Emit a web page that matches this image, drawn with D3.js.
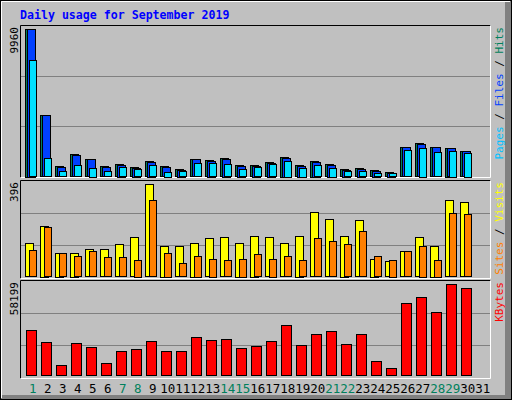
<!DOCTYPE html>
<html><head><meta charset="utf-8">
<script src="https://cdn.jsdelivr.net/npm/d3@7"></script>
<style>body{margin:0;background:#fff}svg{display:block}</style>
</head><body>
<script>
const days = d3.range(1, 32);
const weekend = [1,7,8,14,15,21,22,28,29];
const hits  = [9960,4133,709,1500,1161,709,824,641,1026,709,486,1161,1094,1229,756,756,979,1317,756,1047,824,486,554,419,284,1992,2242,1992,1925,1702];
const files = [9960,4133,640,1420,1161,640,800,600,1000,640,460,1161,1060,1200,720,720,940,1270,720,1000,790,470,520,400,260,1990,2180,1990,1900,1690];
const pages = [7846,1249,371,776,574,371,641,506,776,304,371,911,911,844,506,641,844,1047,574,776,574,371,371,236,236,1789,1925,1654,1722,1587];
const visits = [142,219,103,103,116,116,138,168,396,133,129,146,164,168,146,176,168,142,176,275,245,176,241,77,65,108,168,133,327,318];
const sites  = [112,211,99,86,108,82,82,73,327,103,56,90,77,69,77,95,77,86,69,164,151,138,194,86,73,108,133,73,271,267];
const kbytes = [28780,21105,6396,20466,17908,7675,15350,16629,21745,15350,15350,24303,22384,23024,17268,18547,21745,31978,19187,26222,28141,19826,26222,8954,4477,46048,49885,40292,58199,55641];
const maxLabels = ["9960","396","58199"];

const W=512,H=400;
const svg=d3.select("body").append("svg").attr("width",W).attr("height",H);
// frame
svg.append("rect").attr("x",0).attr("y",0).attr("width",W).attr("height",H).attr("fill","#c0c0c0");
svg.append("rect").attr("x",505).attr("y",0).attr("width",7).attr("height",H).attr("fill","#808080");
svg.append("rect").attr("x",0).attr("y",395).attr("width",W).attr("height",5).attr("fill","#808080");
svg.append("rect").attr("x",0.5).attr("y",0.5).attr("width",W-1).attr("height",H-1).attr("fill","none").attr("stroke","#000");
svg.append("path").attr("d","M1.5,398V1.5H510").attr("stroke","#fff").attr("fill","none");

svg.append("text").attr("x",20).attr("y",19).text("Daily usage for September 2019")
  .attr("font-family","DejaVu Sans Mono").attr("font-weight","bold").attr("font-size","11.6px").attr("fill","#0000ff");

const x = d3.scaleLinear().domain([1,30]).range([25.3, 25.3+29*15]);
const panels=[{top:25,bot:177,base:176.5,ymax:29},{top:180,bot:278,base:276.5,ymax:184.3},{top:280,bot:378,base:375.5,ymax:284.3}];
panels.forEach(p=>{
  svg.append("rect").attr("x",20.5).attr("y",p.top+0.5).attr("width",470).attr("height",p.bot-p.top).attr("fill","#c0c0c0");
  [1,2].forEach(k=>{const gy=Math.round(p.top+(p.bot-p.top)*k/3)+0.5;
    svg.append("line").attr("x1",21).attr("x2",490).attr("y1",gy).attr("y2",gy).attr("stroke","#808080");});
  svg.append("path").attr("d",`M20.5,${p.bot+0.5}V${p.top+0.5}H490.5`).attr("stroke","#000").attr("fill","none");
  svg.append("path").attr("d",`M490.5,${p.top+0.5}V${p.bot+0.5}H20.5`).attr("stroke","#fff").attr("fill","none");
});
function bars(data,p,max,dx,w,color){
  const y=d3.scaleLinear().domain([0,max]).range([p.base,p.ymax]);
  svg.append("g").selectAll("rect").data(data).join("rect")
   .attr("x",(d,i)=>Math.round(x(i+1)+dx)+0.5).attr("y",d=>Math.round(y(d))+0.5)
   .attr("width",w).attr("height",d=>Math.max(0,Math.round(p.base-y(d))))
   .attr("fill",color).attr("stroke","#000");
}
bars(hits,panels[0],9960,0,8,"#00805c");
bars(files,panels[0],9960,2,8,"#0040ff");
bars(pages,panels[0],9960,4,7,"#00e0ff");
bars(visits,panels[1],396,0,8,"#ffff00");
bars(sites,panels[1],396,4,7,"#ff8000");
bars(kbytes,panels[2],58199,1,10,"#ff0000");

// left max labels
panels.forEach((p,i)=>{
  svg.append("text").attr("transform",`translate(18,${p.top+2}) rotate(-90)`).attr("text-anchor","end")
   .attr("font-family","DejaVu Sans Mono").attr("font-size","11px").attr("fill","#000").text(maxLabels[i]);
});
// right legends
function legend(parts,p){
  const t=svg.append("text").attr("transform",`translate(503,${p.top+2}) rotate(-90)`).attr("text-anchor","end")
   .attr("font-family","DejaVu Sans Mono").attr("font-size","11px");
  parts.forEach(([s,c])=>t.append("tspan").attr("fill",c).text(s));
}
legend([["Pages","#00c0ff"],[" / ","#000"],["Files","#0040ff"],[" / ","#000"],["Hits","#00805c"]],panels[0]);
legend([["Sites","#ff8000"],[" / ","#000"],["Visits","#ffff00"]],panels[1]);
legend([["KBytes","#ff0000"]],panels[2]);
// day labels
svg.append("g").selectAll("text").data(days).join("text")
 .attr("x",d=>x(d)+7.5).attr("y",393).attr("text-anchor","middle")
 .attr("font-family","DejaVu Sans Mono").attr("font-size","12.5px")
 .attr("fill",d=>weekend.includes(d)?"#00805c":"#000").text(d=>d);
</script>
</body></html>
